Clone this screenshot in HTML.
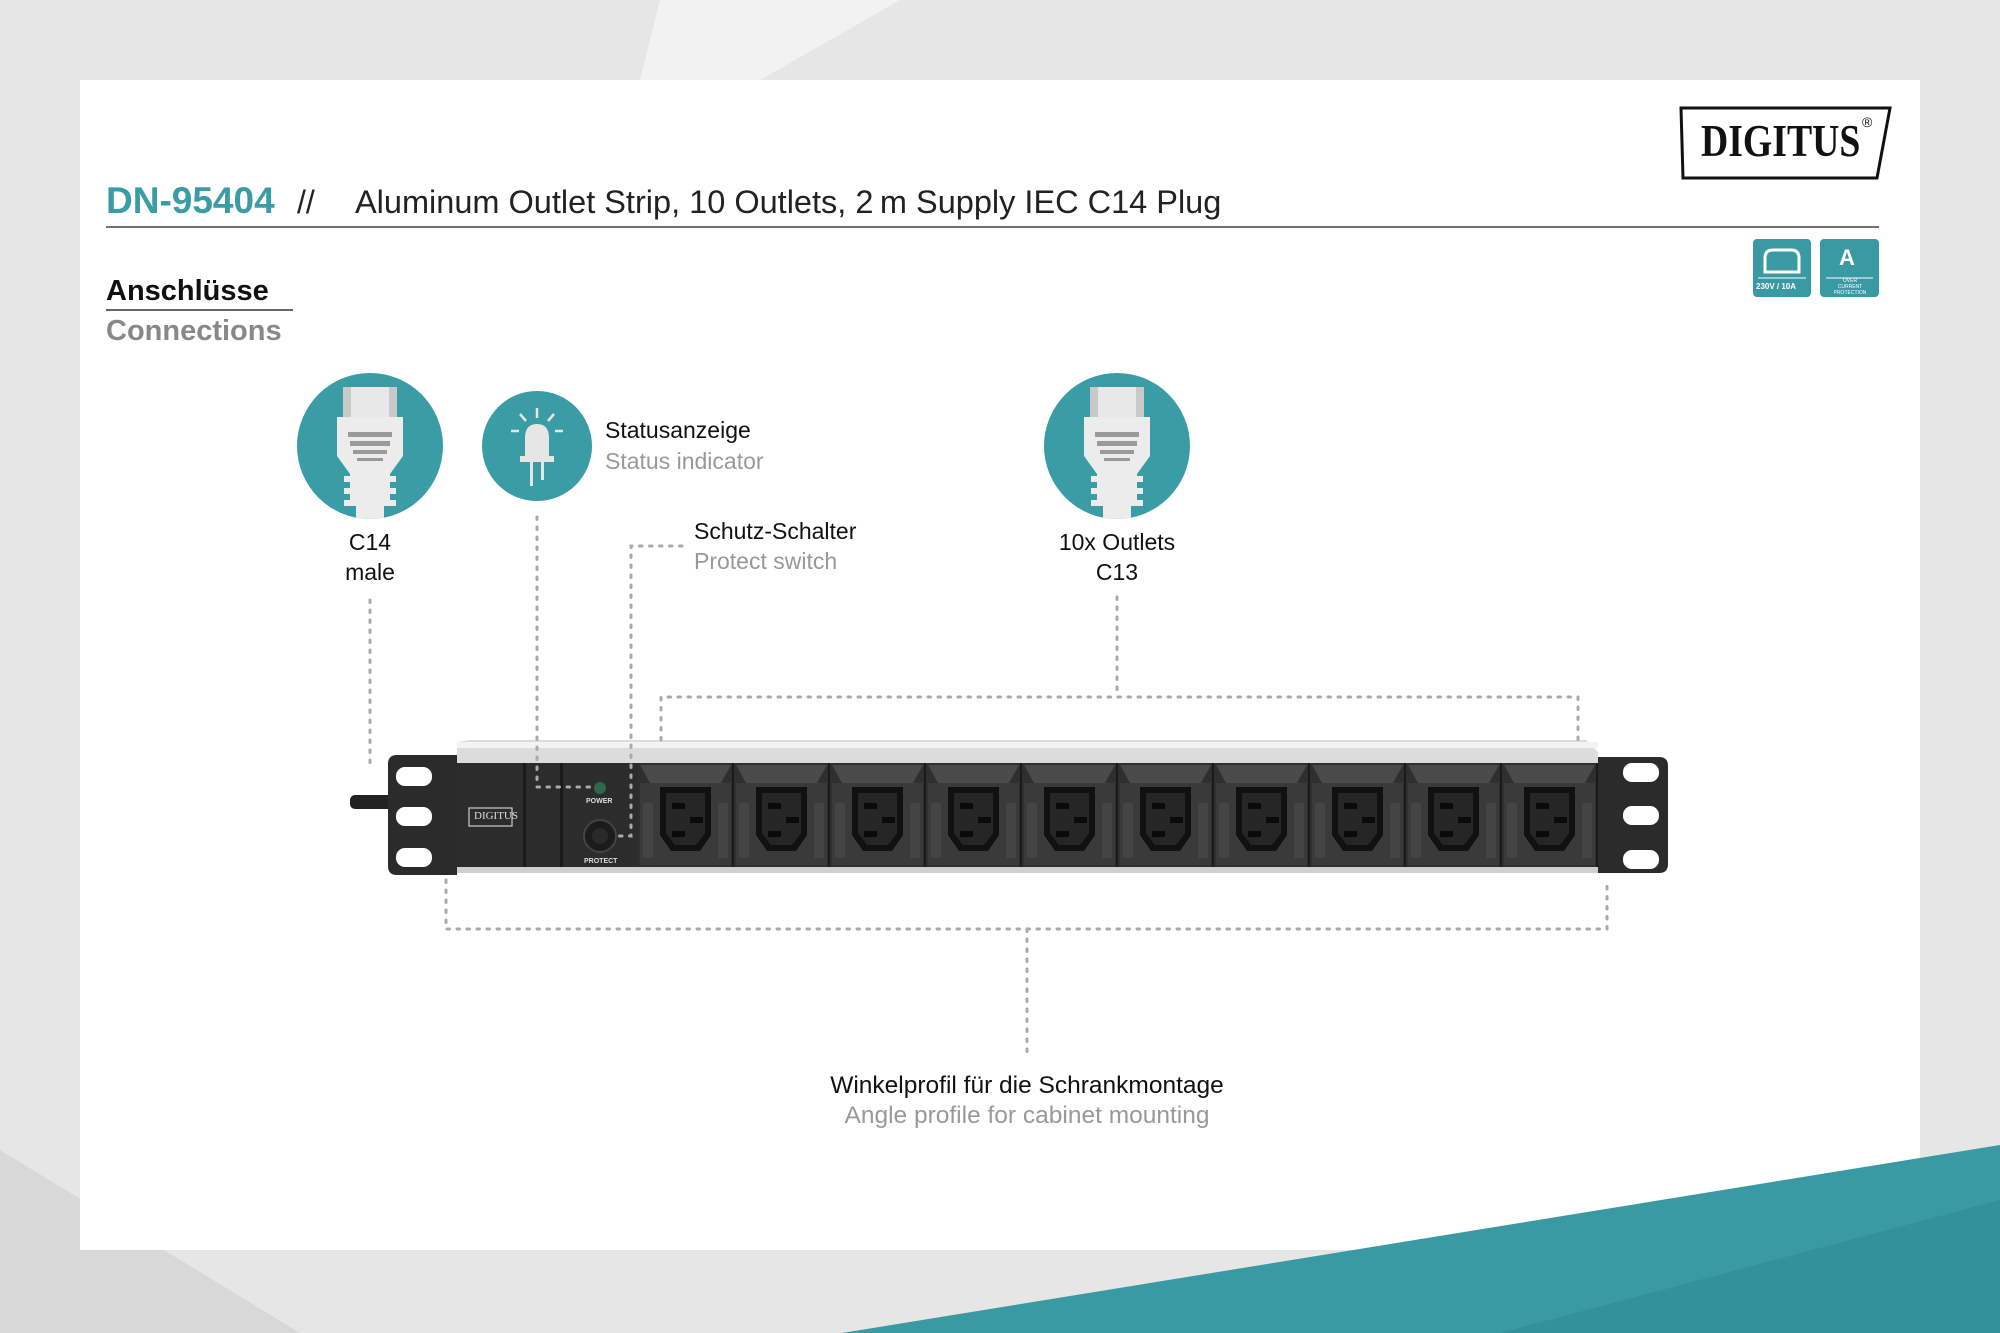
<!DOCTYPE html>
<html><head><meta charset="utf-8"><style>
html,body{margin:0;padding:0}
body{width:2000px;height:1333px;position:relative;overflow:hidden;background:#e6e6e6;font-family:"Liberation Sans",sans-serif}
.t{position:absolute;white-space:nowrap;font-family:"Liberation Sans",sans-serif}
</style></head><body>
<svg width="2000" height="1333" style="position:absolute;left:0;top:0">
<defs>
<g id="out">
<rect x="0" y="0" width="95" height="104" fill="#2f2f2f"/>
<polygon points="2,2 93,2 83,20 12,20" fill="#4a4a4a"/>
<rect x="2" y="20" width="91" height="82" fill="#3a3a3a"/>
<rect x="5" y="40" width="10" height="55" fill="#444"/>
<rect x="80" y="40" width="10" height="55" fill="#444"/>
<path d="M22 24 H73 V72 L62 88 H33 L22 72 Z" fill="#111"/>
<path d="M28 30 H67 V70 L58 82 H37 L28 70 Z" fill="#262626"/>
<rect x="34" y="40" width="13" height="6" fill="#0a0a0a"/>
<rect x="34" y="68" width="13" height="6" fill="#0a0a0a"/>
<rect x="52" y="54" width="13" height="6" fill="#0a0a0a"/>
<rect x="94" y="0" width="2" height="104" fill="#1a1a1a"/>
</g>
<clipPath id="c1"><circle cx="370" cy="446" r="73"/></clipPath>
<clipPath id="c3"><circle cx="1117" cy="446" r="73"/></clipPath>
</defs>
<polygon points="660,0 900,0 760,80 640,80" fill="#f2f2f2"/>
<polygon points="0,1150 300,1333 0,1333" fill="#d8d8d8"/>
<rect x="80" y="80" width="1840" height="1170" fill="#fff"/>
<polygon points="842,1333 2000,1145 2000,1333" fill="#3a9aa3"/>
<polygon points="1500,1333 2000,1200 2000,1333" fill="#2f8d96" opacity=".7"/>
<line x1="106" y1="227" x2="1879" y2="227" stroke="#444" stroke-width="1.5"/>
<line x1="106" y1="310" x2="293" y2="310" stroke="#333" stroke-width="1.5"/>
<polygon points="1681,108 1890,108 1877,178 1683,178" fill="#fff" stroke="#111" stroke-width="3"/>
<rect x="1753" y="239" width="58" height="58" rx="4" fill="#3a9aa3"/>
<rect x="1820" y="239" width="59" height="58" rx="4" fill="#3a9aa3"/>
<path d="M1765 272 V258 Q1765 250 1773 250 H1791 Q1799 250 1799 258 V272 Z" fill="none" stroke="#fff" stroke-width="3"/>
<line x1="1758" y1="278" x2="1806" y2="278" stroke="#fff" stroke-width="1"/>
<line x1="1826" y1="278" x2="1873" y2="278" stroke="#fff" stroke-width="1"/>
<circle cx="370" cy="446" r="73" fill="#3a9ca5"/>
<circle cx="537" cy="446" r="55" fill="#3a9ca5"/>
<circle cx="1117" cy="446" r="73" fill="#3a9ca5"/>
<g clip-path="url(#c1)"><g transform="translate(370,446)">
<rect x="-27" y="-59" width="54" height="30" rx="3" fill="#e8e8e8"/>
<rect x="-27" y="-59" width="8" height="30" fill="#c9c9c9"/><rect x="19" y="-59" width="8" height="30" fill="#c9c9c9"/>
<path d="M-33 -29 H33 V10 L20 28 V60 H-20 V28 L-33 10 Z" fill="#ececec"/>
<rect x="-22" y="-14" width="44" height="5" fill="#9a9a9a"/><rect x="-20" y="-5" width="40" height="5" fill="#9a9a9a"/>
<rect x="-17" y="4" width="34" height="4" fill="#9a9a9a"/><rect x="-13" y="12" width="26" height="3" fill="#9a9a9a"/>
<rect x="-26" y="30" width="52" height="6" fill="#ececec"/><rect x="-26" y="42" width="52" height="6" fill="#ececec"/><rect x="-26" y="54" width="52" height="6" fill="#ececec"/>
<rect x="-14" y="60" width="28" height="20" fill="#ececec"/></g></g>
<g clip-path="url(#c3)"><g transform="translate(1117,446)">
<rect x="-27" y="-59" width="54" height="30" rx="3" fill="#e8e8e8"/>
<rect x="-27" y="-59" width="8" height="30" fill="#c9c9c9"/><rect x="19" y="-59" width="8" height="30" fill="#c9c9c9"/>
<path d="M-33 -29 H33 V10 L20 28 V60 H-20 V28 L-33 10 Z" fill="#ececec"/>
<rect x="-22" y="-14" width="44" height="5" fill="#9a9a9a"/><rect x="-20" y="-5" width="40" height="5" fill="#9a9a9a"/>
<rect x="-17" y="4" width="34" height="4" fill="#9a9a9a"/><rect x="-13" y="12" width="26" height="3" fill="#9a9a9a"/>
<rect x="-26" y="30" width="52" height="6" fill="#ececec"/><rect x="-26" y="42" width="52" height="6" fill="#ececec"/><rect x="-26" y="54" width="52" height="6" fill="#ececec"/>
<rect x="-14" y="60" width="28" height="20" fill="#ececec"/></g></g>
<path d="M525 458 V438 Q525 424 537 424 Q549 424 549 438 V458 Z" fill="#e6e6e6"/>
<rect x="520" y="456" width="34" height="6" fill="#e6e6e6"/>
<rect x="530" y="462" width="3" height="24" fill="#e6e6e6"/>
<rect x="541" y="462" width="3" height="18" fill="#e6e6e6"/>
<g stroke="#e6e6e6" stroke-width="2.5"><line x1="537" y1="408" x2="537" y2="418"/><line x1="520" y1="414" x2="526" y2="421"/><line x1="554" y1="414" x2="548" y2="421"/><line x1="511" y1="431" x2="519" y2="431"/><line x1="555" y1="431" x2="563" y2="431"/></g>
<polygon points="457,742 470,740 1586,740 1598,752 1598,763 457,763" fill="#dcdcdc"/>
<rect x="457" y="742" width="1141" height="6" fill="#f3f3f3"/>
<rect x="457" y="763" width="1141" height="104" fill="#2c2c2c"/>
<rect x="457" y="867" width="1141" height="6" fill="#cfcfcf"/>
<rect x="350" y="795" width="45" height="14" rx="5" fill="#222"/>
<path d="M397 755 H457 V875 H397 Q388 875 388 866 V764 Q388 755 397 755Z" fill="#2b2b2b"/>
<path d="M1598 757 H1659 Q1668 757 1668 766 V864 Q1668 873 1659 873 H1598Z" fill="#2b2b2b"/>
<g fill="#fff"><rect x="396" y="767" width="36" height="19" rx="9"/><rect x="396" y="807" width="36" height="19" rx="9"/><rect x="396" y="848" width="36" height="19" rx="9"/>
<rect x="1623" y="763" width="36" height="19" rx="9"/><rect x="1623" y="806" width="36" height="19" rx="9"/><rect x="1623" y="850" width="36" height="19" rx="9"/></g>
<rect x="523" y="763" width="3" height="104" fill="#1a1a1a"/>
<rect x="560" y="763" width="3" height="104" fill="#1a1a1a"/>
<rect x="469" y="808" width="43" height="18" fill="none" stroke="#ccc" stroke-width="1.2"/>
<circle cx="600" cy="788" r="6" fill="#2e6a4a"/>
<circle cx="600" cy="836" r="16" fill="#1c1c1c" stroke="#444" stroke-width="2"/>
<circle cx="600" cy="836" r="8" fill="#292929"/>
<use href="#out" x="638" y="763"/><use href="#out" x="734" y="763"/><use href="#out" x="830" y="763"/><use href="#out" x="926" y="763"/><use href="#out" x="1022" y="763"/>
<use href="#out" x="1118" y="763"/><use href="#out" x="1214" y="763"/><use href="#out" x="1310" y="763"/><use href="#out" x="1406" y="763"/><use href="#out" x="1502" y="763"/>
<g stroke="#aaa" stroke-width="3" stroke-dasharray="2.5 7.5" stroke-linecap="round" fill="none">
<path d="M370 600 V765"/>
<path d="M537 517 V787 H590"/>
<path d="M682 546 H631 V836 H612"/>
<path d="M1117 597 V697"/>
<path d="M661 740 V697 H1578 V740"/>
<path d="M446 880 V929 H1607 V880"/>
<path d="M1027 929 V1059"/>
</g>
</svg>
<div class="t" style="left:1701px;top:114px;font-family:'Liberation Serif',serif;font-size:46px;font-weight:bold;color:#111;transform:scaleX(.82);transform-origin:left">DIGITUS</div>
<div class="t" style="left:1862px;top:114px;font-size:14px;color:#111">®</div>
<div class="t" style="left:1756px;top:282px;font-size:8px;color:#fff;font-weight:bold">230V / 10A</div>
<div class="t" style="left:1839px;top:245px;font-size:22px;color:#fff;font-weight:bold">A</div>
<div class="t" style="left:1826px;top:278px;font-size:5px;color:#fff;line-height:6px;text-align:center;width:48px">OVER<br>CURRENT<br>PROTECTION</div>
<div class="t" style="left:106px;top:180px;font-size:37px;font-weight:bold;color:#3a9ca5">DN-95404</div>
<div class="t" style="left:297px;top:184px;font-size:32px;color:#222">//</div>
<div class="t" style="left:355px;top:184px;font-size:32.5px;color:#222">Aluminum Outlet Strip, 10 Outlets, 2&#8201;m Supply IEC C14 Plug</div>
<div class="t" style="left:106px;top:275px;font-size:29px;font-weight:bold;color:#111">Anschlüsse</div>
<div class="t" style="left:106px;top:315px;font-size:29px;font-weight:bold;color:#888">Connections</div>
<div class="t" style="left:605px;top:417px;font-size:23px;color:#111">Statusanzeige</div>
<div class="t" style="left:605px;top:448px;font-size:23px;color:#999">Status indicator</div>
<div class="t" style="left:320px;top:527px;width:100px;text-align:center;font-size:23px;color:#111;line-height:30px">C14<br>male</div>
<div class="t" style="left:694px;top:518px;font-size:23px;color:#111">Schutz-Schalter</div>
<div class="t" style="left:694px;top:548px;font-size:23px;color:#999">Protect switch</div>
<div class="t" style="left:1017px;top:527px;width:200px;text-align:center;font-size:23px;color:#111;line-height:30px">10x Outlets<br>C13</div>
<div class="t" style="left:727px;top:1072px;width:600px;text-align:center;font-size:24.5px;color:#111">Winkelprofil für die Schrankmontage</div>
<div class="t" style="left:727px;top:1102px;width:600px;text-align:center;font-size:24.5px;color:#999">Angle profile for cabinet mounting</div>
<div class="t" style="left:474px;top:810px;font-family:'Liberation Serif',serif;font-size:11px;color:#ddd">DIGITUS</div>
<div class="t" style="left:586px;top:798px;font-size:7px;color:#ddd;font-weight:bold">POWER</div>
<div class="t" style="left:584px;top:858px;font-size:7px;color:#ddd;font-weight:bold">PROTECT</div>
</body></html>
